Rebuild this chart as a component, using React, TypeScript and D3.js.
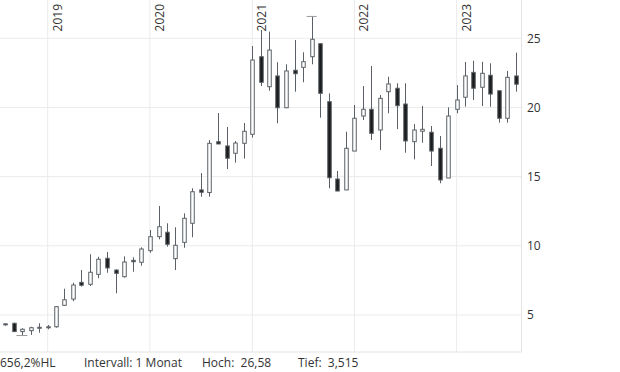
import React from 'react'
import * as d3 from 'd3'

// monthly candles, Aug 2018 - Aug 2023
const months = [
  '2018-08','2018-09','2018-10','2018-11','2018-12',
  '2019-01','2019-02','2019-03','2019-04','2019-05','2019-06','2019-07','2019-08','2019-09','2019-10','2019-11','2019-12',
  '2020-01','2020-02','2020-03','2020-04','2020-05','2020-06','2020-07','2020-08','2020-09','2020-10','2020-11','2020-12',
  '2021-01','2021-02','2021-03','2021-04','2021-05','2021-06','2021-07','2021-08','2021-09','2021-10','2021-11','2021-12',
  '2022-01','2022-02','2022-03','2022-04','2022-05','2022-06','2022-07','2022-08','2022-09','2022-10','2022-11','2022-12',
  '2023-01','2023-02','2023-03','2023-04','2023-05','2023-06','2023-07','2023-08',
]
const openVals = [
  4.36, 4.4, 3.8, 3.87, 4.05,
  4.1, 4.15, 5.7, 6.15, 7.36, 7.22, 7.94, 9.1, 8.25, 7.77, 8.95, 8.81,
  9.65, 10.66, 10.98, 9.07, 10.25, 11.63, 14.04, 13.85, 17.53, 17.22, 16.69, 17.41,
  18.06, 23.67, 21.5, 22.28, 19.98, 22.69, 22.9, 23.67, 24.61, 20.42, 14.83, 14.04,
  16.85, 19.38, 19.87, 18.37, 21.14, 21.39, 20.25, 17.53, 18.28, 18.21, 17.05, 14.9,
  19.87, 20.74, 22.54, 21.46, 22.33, 21.21, 19.22, 22.28,
]
const highVals = [
  4.38, 4.45, 4.04, 4.15, 4.4,
  4.28, 5.65, 6.9, 7.33, 8.25, 9.39, 9.21, 9.55, 8.3, 9.24, 9.17, 9.89,
  11.14, 12.88, 11.63, 11.34, 12.35, 14.16, 15.26, 17.65, 19.6, 18.59, 17.58, 18.88,
  24.44, 25.6, 25.48, 23.27, 23.12, 24.88, 23.99, 26.58, 24.61, 21.02, 15.41, 18.25,
  20.18, 21.55, 23.0, 20.9, 22.22, 21.75, 21.75, 18.81, 20.11, 18.66, 17.94, 20.01,
  21.62, 23.29, 23.38, 23.3, 23.19, 21.21, 22.64, 23.96,
]
const lowVals = [
  4.22, 3.78, 3.515, 3.56, 3.72,
  3.97, 4.08, 5.65, 6.0, 7.05, 7.1, 7.65, 8.05, 6.57, 7.7, 8.13, 8.56,
  9.5, 10.47, 9.94, 8.25, 9.86, 10.62, 13.55, 13.55, 17.36, 15.55, 16.01, 16.3,
  17.82, 21.55, 21.21, 18.86, 19.98, 21.14, 21.82, 23.12, 19.26, 14.16, 13.96, 14.04,
  16.85, 19.09, 17.65, 16.93, 19.58, 18.44, 16.73, 16.25, 17.45, 15.77, 14.52, 14.9,
  19.58, 20.06, 20.54, 20.11, 20.05, 18.9, 18.9, 21.14,
]
const closeVals = [
  4.34, 3.8, 3.97, 4.08, 4.11,
  4.15, 5.6, 6.1, 7.17, 7.15, 8.09, 9.03, 8.4, 8.01, 8.83, 8.85, 9.77,
  10.66, 11.38, 10.11, 10.04, 11.99, 13.91, 13.87, 17.41, 17.36, 16.33, 17.43, 18.28,
  23.43, 21.82, 24.15, 19.98, 22.64, 22.44, 23.31, 24.93, 21.02, 14.92, 13.96, 17.05,
  19.22, 19.87, 18.13, 20.66, 21.7, 20.13, 17.58, 18.37, 18.42, 16.85, 14.76, 19.38,
  20.54, 22.28, 21.39, 22.47, 20.97, 19.22, 22.18, 21.68,
]

const yTicks = [5, 10, 15, 20, 25]
const yearTicks = ['2019', '2020', '2021', '2022', '2023']
const footer = [
  { text: '656,2%HL', x: 0 },
  { text: 'Intervall: 1 Monat', x: 84 },
  { text: 'Hoch:  26,58', x: 202 },
  { text: 'Tief:  3,515', x: 298 },
]

const W = 620
const H = 372
const plotRight = 521.5
const plotBottom = 352
const font = '"Open Sans", sans-serif'

const parseMonth = d3.timeParse('%Y-%m')

const App = () => {
  const candles = months.map((m, i) => ({
    date: parseMonth(m) as Date,
    open: openVals[i],
    high: highVals[i],
    low: lowVals[i],
    close: closeVals[i],
  }))

  const xScale = d3.scaleTime()
    .domain([new Date(2019, 0, 1), new Date(2021, 0, 1)])
    .range([47.7, 252.3])

  const yScale = d3.scaleLinear()
    .domain([5, 25])
    .range([315, 38.3])

  const maxC = candles[d3.maxIndex(candles, d => d.high)]
  const minC = candles[d3.minIndex(candles, d => d.low)]

  const bodyW = 3.5
  const wick = '#5a6065'

  return (
    <svg width={W} height={H} style={{ position: 'fixed', top: 0, left: 0, background: '#fff' }}>
      {/* grid */}
      <g>
        {yTicks.map(t => (
          <line key={'h' + t} x1={0} x2={plotRight} y1={yScale(t)} y2={yScale(t)} stroke="#ebebeb" />
        ))}
        {yearTicks.map(y => {
          const x = xScale(new Date(+y, 0, 1))
          return <line key={'v' + y} x1={x} x2={x} y1={0} y2={plotBottom} stroke="#ebebeb" />
        })}
        <line x1={0} x2={plotRight} y1={plotBottom} y2={plotBottom} stroke="#e4e4e4" />
        <line x1={plotRight} x2={plotRight} y1={0} y2={plotBottom} stroke="#e4e4e4" />
      </g>

      {/* candles */}
      <g>
        {candles.map((d, i) => {
          const x = Math.round(xScale(d.date)) + 0.5
          const up = d.close >= d.open
          const top = yScale(Math.max(d.open, d.close))
          const bot = yScale(Math.min(d.open, d.close))
          return (
            <g key={i}>
              <line x1={x} x2={x} y1={yScale(d.high)} y2={yScale(d.low)} stroke={wick} strokeWidth={1} />
              <rect
                x={x - bodyW / 2}
                y={top}
                width={bodyW}
                height={Math.max(bot - top, 1)}
                fill={up ? '#fff' : '#1b1b1b'}
                stroke={wick}
                strokeWidth={1}
              />
            </g>
          )
        })}
      </g>

      {/* high / low markers */}
      <line x1={xScale(maxC.date) - 5} x2={xScale(maxC.date) + 5} y1={yScale(maxC.high)} y2={yScale(maxC.high)} stroke="#999" />
      <line x1={xScale(minC.date) - 5.5} x2={xScale(minC.date) + 5.5} y1={yScale(minC.low)} y2={yScale(minC.low)} stroke="#999" />

      {/* year labels */}
      {yearTicks.map(y => {
        const x = xScale(new Date(+y, 0, 1))
        return (
          <text key={'t' + y} transform={`translate(${x + 14},4) rotate(-90)`} textAnchor="end"
            fontFamily={font} fontSize={12} fill="#333">{y}</text>
        )
      })}

      {/* y axis labels */}
      {yTicks.map(t => (
        <text key={'y' + t} x={527} y={yScale(t)} dy="0.35em" fontFamily={font} fontSize={12} fill="#333">{t}</text>
      ))}

      {/* footer */}
      {footer.map(f => (
        <text key={f.text} x={f.x} y={367} fontFamily={font} fontSize={12} fill="#333"
          style={{ whiteSpace: 'pre' }}>{f.text}</text>
      ))}
    </svg>
  )
}

export default App
